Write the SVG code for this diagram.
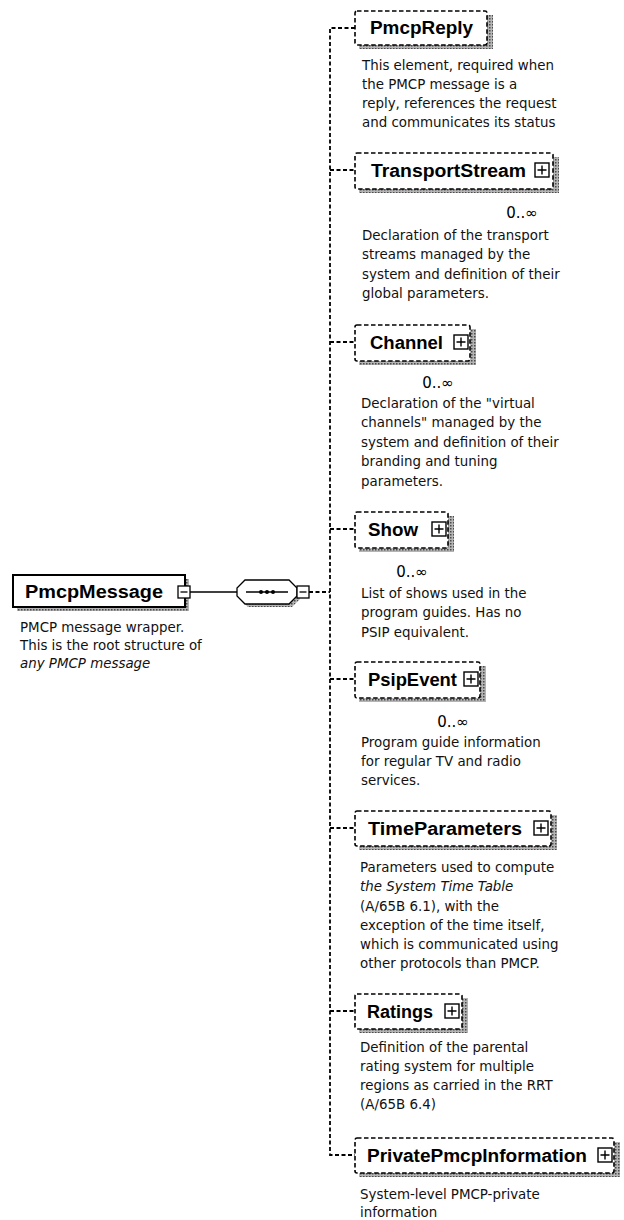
<svg xmlns="http://www.w3.org/2000/svg" width="624" height="1220" viewBox="0 0 624 1220">
<defs>
<pattern id="hatch" width="3" height="3" patternUnits="userSpaceOnUse"><rect width="3" height="3" fill="#b4b4b4"/><rect width="1.5" height="1.5" fill="#4a4a4a"/></pattern>
<g id="plus"><rect x="0" y="0" width="14" height="14" fill="#fff" stroke="#000" stroke-width="1.4"/><path d="M2.5 7h9M7 2.5v9" stroke="#000" stroke-width="1.4"/></g>
<g id="minus"><rect x="0" y="0" width="12" height="12" fill="#fff" stroke="#000" stroke-width="1.3"/><path d="M2.5 6h7" stroke="#000" stroke-width="1.3"/></g>
</defs>
<style>
.name{font-family:"Liberation Sans",Arial,sans-serif;font-weight:bold;font-size:18px;fill:#000}
.desc{font-family:"DejaVu Sans",Verdana,sans-serif;font-size:13.4px;fill:#111}
.card{font-family:"DejaVu Sans",Verdana,sans-serif;font-size:15px;fill:#000;text-anchor:middle}
.it{font-style:italic}
.box{fill:#fff;stroke:#000;stroke-width:1.6;stroke-dasharray:4.5 2.5}
.shadow{fill:url(#hatch)}
.conn{fill:none;stroke:#000;stroke-width:1.8;stroke-dasharray:4 2.5}
.solid{fill:none;stroke:#000;stroke-width:1.3}
</style>
<rect width="624" height="1220" fill="#fff"/>

<g id="connectors">
<line class="solid" x1="190" y1="592" x2="237" y2="592"/>
<line class="conn" x1="309" y1="592" x2="330" y2="592"/>
<path class="conn" d="M355 28H330V1155H355"/>
<line class="conn" x1="330" y1="170" x2="355" y2="170"/>
<line class="conn" x1="330" y1="342" x2="355" y2="342"/>
<line class="conn" x1="330" y1="529" x2="355" y2="529"/>
<line class="conn" x1="330" y1="679" x2="355" y2="679"/>
<line class="conn" x1="330" y1="828" x2="355" y2="828"/>
<line class="conn" x1="330" y1="1011" x2="355" y2="1011"/>
</g>

<g id="PmcpMessage">
<rect class="shadow" x="17" y="579" width="172" height="32"/>
<rect x="13" y="575" width="172" height="32" fill="#fff" stroke="#000" stroke-width="2"/>
<text class="name" x="25" y="598" textLength="138" lengthAdjust="spacingAndGlyphs">PmcpMessage</text>
<use href="#minus" x="178" y="586"/>
<text class="desc" x="20" y="632">PMCP message wrapper.</text>
<text class="desc" x="20" y="650">This is the root structure of</text>
<text class="desc it" x="20" y="668">any PMCP message</text>
</g>

<g id="sequence">
<polygon class="shadow" points="248,583 292,583 300,591 300,599 292,607 248,607 240,599 240,591"/>
<polygon points="245,580 289,580 297,588 297,596 289,604 245,604 237,596 237,588" fill="#fff" stroke="#000" stroke-width="1.3"/>
<line class="solid" x1="246" y1="592" x2="288" y2="592"/>
<circle cx="261" cy="592" r="2" fill="#000"/>
<circle cx="267" cy="592" r="2" fill="#000"/>
<circle cx="273" cy="592" r="2" fill="#000"/>
<use href="#minus" x="297" y="586"/>
</g>

<g id="PmcpReply">
<rect class="shadow" x="359" y="15" width="134" height="34"/>
<rect class="box" x="355" y="11" width="132" height="34" rx="2"/>
<text class="name" x="370" y="34" textLength="103" lengthAdjust="spacingAndGlyphs">PmcpReply</text>
<text class="desc" x="362" y="70">This element, required when</text>
<text class="desc" x="362" y="89">the PMCP message is a</text>
<text class="desc" x="362" y="108">reply, references the request</text>
<text class="desc" x="362" y="127">and communicates its status</text>
</g>

<g id="TransportStream">
<rect class="shadow" x="359" y="157" width="200" height="36"/>
<rect class="box" x="355" y="153" width="198" height="36" rx="2"/>
<text class="name" x="371" y="177" textLength="155" lengthAdjust="spacingAndGlyphs">TransportStream</text>
<use href="#plus" x="535" y="163"/>
<text class="card" x="522" y="218">0..∞</text>
<text class="desc" x="362" y="240">Declaration of the transport</text>
<text class="desc" x="362" y="259">streams managed by the</text>
<text class="desc" x="362" y="279">system and definition of their</text>
<text class="desc" x="362" y="298">global parameters.</text>
</g>

<g id="Channel">
<rect class="shadow" x="359" y="329" width="117" height="36"/>
<rect class="box" x="355" y="325" width="115" height="36" rx="2"/>
<text class="name" x="370" y="349" textLength="73" lengthAdjust="spacingAndGlyphs">Channel</text>
<use href="#plus" x="454" y="335"/>
<text class="card" x="438" y="388">0..∞</text>
<text class="desc" x="361" y="408">Declaration of the "virtual</text>
<text class="desc" x="361" y="427">channels" managed by the</text>
<text class="desc" x="361" y="447">system and definition of their</text>
<text class="desc" x="361" y="466">branding and tuning</text>
<text class="desc" x="361" y="486">parameters.</text>
</g>

<g id="Show">
<rect class="shadow" x="359" y="516" width="95" height="36"/>
<rect class="box" x="355" y="512" width="93" height="36" rx="2"/>
<text class="name" x="368" y="536" textLength="50" lengthAdjust="spacingAndGlyphs">Show</text>
<use href="#plus" x="432" y="522"/>
<text class="card" x="412" y="577">0..∞</text>
<text class="desc" x="361" y="598">List of shows used in the</text>
<text class="desc" x="361" y="617">program guides. Has no</text>
<text class="desc" x="361" y="637">PSIP equivalent.</text>
</g>

<g id="PsipEvent">
<rect class="shadow" x="359" y="666" width="127" height="36"/>
<rect class="box" x="355" y="662" width="125" height="36" rx="2"/>
<text class="name" x="368" y="686" textLength="89" lengthAdjust="spacingAndGlyphs">PsipEvent</text>
<use href="#plus" x="464" y="672"/>
<text class="card" x="453" y="727">0..∞</text>
<text class="desc" x="361" y="747">Program guide information</text>
<text class="desc" x="361" y="766">for regular TV and radio</text>
<text class="desc" x="361" y="785">services.</text>
</g>

<g id="TimeParameters">
<rect class="shadow" x="359" y="815" width="198" height="35"/>
<rect class="box" x="355" y="811" width="196" height="35" rx="2"/>
<text class="name" x="368" y="835" textLength="154" lengthAdjust="spacingAndGlyphs">TimeParameters</text>
<use href="#plus" x="534" y="821"/>
<text class="desc" x="360" y="872">Parameters used to compute</text>
<text class="desc it" x="360" y="891">the System Time Table</text>
<text class="desc" x="360" y="911">(A/65B 6.1), with the</text>
<text class="desc" x="360" y="930">exception of the time itself,</text>
<text class="desc" x="360" y="949">which is communicated using</text>
<text class="desc" x="360" y="968">other protocols than PMCP.</text>
</g>

<g id="Ratings">
<rect class="shadow" x="359" y="998" width="109" height="35"/>
<rect class="box" x="355" y="994" width="107" height="35" rx="2"/>
<text class="name" x="367" y="1018" textLength="66" lengthAdjust="spacingAndGlyphs">Ratings</text>
<use href="#plus" x="445" y="1004"/>
<text class="desc" x="360" y="1052">Definition of the parental</text>
<text class="desc" x="360" y="1071">rating system for multiple</text>
<text class="desc" x="360" y="1090">regions as carried in the RRT</text>
<text class="desc" x="360" y="1109">(A/65B 6.4)</text>
</g>

<g id="PrivatePmcpInformation">
<rect class="shadow" x="359" y="1142" width="261" height="35"/>
<rect class="box" x="355" y="1138" width="259" height="35" rx="2"/>
<text class="name" x="367" y="1162" textLength="220" lengthAdjust="spacingAndGlyphs">PrivatePmcpInformation</text>
<use href="#plus" x="598" y="1148"/>
<text class="desc" x="360" y="1199">System-level PMCP-private</text>
<text class="desc" x="360" y="1217">information</text>
</g>
</svg>
